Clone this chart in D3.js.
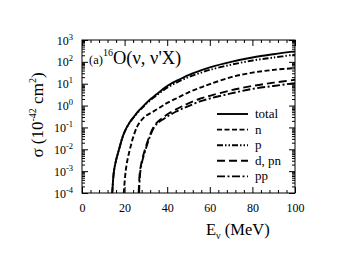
<!DOCTYPE html>
<html><head><meta charset="utf-8">
<script src="https://cdn.jsdelivr.net/npm/d3@7"></script>
<style>body{margin:0;background:#fff}svg{display:block}text{font-family:"Liberation Serif","Times New Roman",serif;fill:#000}</style>
</head><body><svg id="c" width="348" height="272" font-family="Liberation Serif, serif"></svg>
<script>
const xTicks = [0, 20, 40, 60, 80, 100];
const yExponents = [-4, -3, -2, -1, 0, 1, 2, 3];
const seriesNames = ["total", "n", "p", "d, pn", "pp"];
const totalE = [14.2, 15, 16, 17.4, 19, 20, 21, 22, 23, 24, 25.5, 27, 28.5, 30, 32.5, 35, 37.5, 40, 45, 50, 55, 60, 70, 80, 90, 100];
const totalS = [1e-4, 1e-3, 3.2e-3, 1e-2, 0.035, 0.063, 0.1, 0.148, 0.21, 0.28, 0.43, 0.63, 0.89, 1.26, 2.1, 3.3, 5.2, 7.9, 14.5, 25, 38, 56, 100, 158, 224, 302];
const pE = [14.2, 15, 16, 17.4, 19, 20, 21, 22, 23, 24, 25.5, 27, 28.5, 30, 32.5, 35, 37.5, 40, 45, 50, 55, 60, 70, 80, 90, 100];
const pS = [1e-4, 1e-3, 3.2e-3, 1e-2, 0.035, 0.062, 0.098, 0.144, 0.2, 0.27, 0.41, 0.59, 0.83, 1.15, 1.9, 2.9, 4.5, 6.6, 12, 20, 30, 43, 74, 115, 158, 214];
const nE = [19.6, 20.5, 21.4, 22.5, 24, 25.7, 26.5, 28, 30, 32.5, 35, 37.5, 40, 45, 50, 55, 60, 70, 80, 90, 100];
const nS = [1e-4, 1e-3, 3.5e-3, 1e-2, 0.035, 0.1, 0.14, 0.22, 0.34, 0.47, 0.66, 0.93, 1.32, 2.3, 4.0, 6.3, 9.5, 20, 32, 43, 52];
const dE = [26.6, 27.2, 28.2, 29.6, 31.3, 33.5, 35.5, 38, 40.5, 43.7, 47, 50, 55, 60, 70, 80, 90, 100];
const dS = [1e-4, 1e-3, 3.2e-3, 1e-2, 0.032, 0.1, 0.18, 0.28, 0.42, 0.63, 0.93, 1.26, 2.0, 2.8, 5.0, 7.9, 11.2, 15.1];
const ppE = [26.8, 27.4, 28.4, 29.9, 31.6, 33.8, 35.8, 38.5, 41, 44, 47, 50, 55, 60, 70, 80, 90, 100];
const ppS = [1e-4, 1e-3, 3.2e-3, 1e-2, 0.032, 0.1, 0.165, 0.25, 0.36, 0.52, 0.72, 0.95, 1.5, 2.1, 3.6, 5.8, 7.9, 10.7];

const FONT = "Liberation Serif, Times New Roman, serif";
const svg = d3.select("#c");
const L = 82, R = 295, T = 40, B = 193;
const x = d3.scaleLinear().domain([0, 100]).range([L, R]);
const y = d3.scaleLog().domain([1e-4, 1e3]).range([B, T]);

svg.append("clipPath").attr("id", "clip").append("rect")
  .attr("x", L).attr("y", T - 2).attr("width", R - L).attr("height", B - T + 4);

const series = [
  {E: totalE, S: totalS, dash: null},
  {E: nE, S: nS, dash: "5,2.5"},
  {E: pE, S: pS, dash: "6,2,1.5,2,1.5,2"},
  {E: dE, S: dS, dash: "8,4"},
  {E: ppE, S: ppS, dash: "8,2.5,2,2.5"}
];
const line = d3.line().x(d => x(d[0])).y(d => y(d[1])).curve(d3.curveCatmullRom.alpha(0.5));
const g = svg.append("g").attr("clip-path", "url(#clip)");
series.forEach(s => {
  g.append("path").attr("d", line(s.E.map((e, i) => [e, s.S[i]])))
    .attr("fill", "none").attr("stroke", "#000").attr("stroke-width", 1.9)
    .attr("stroke-dasharray", s.dash);
});

svg.append("rect").attr("x", L).attr("y", T).attr("width", R - L).attr("height", B - T)
  .attr("fill", "none").attr("stroke", "#000").attr("stroke-width", 1);

const xMinor = d3.range(0, 101, 4).filter(v => v % 20 !== 0);
const axB = d3.axisBottom(x).tickValues(xTicks).tickSize(-6).tickFormat(d3.format("d")).tickPadding(10);
const gb = svg.append("g").attr("transform", `translate(0,${B})`).call(axB);
svg.append("g").attr("transform", `translate(0,${T})`).call(d3.axisTop(x).tickValues(xTicks).tickSize(-6).tickFormat(""));
svg.append("g").attr("transform", `translate(0,${B})`).call(d3.axisBottom(x).tickValues(xMinor).tickSize(-3).tickFormat(""));
svg.append("g").attr("transform", `translate(0,${T})`).call(d3.axisTop(x).tickValues(xMinor).tickSize(-3).tickFormat(""));

const yMajor = yExponents.map(e => Math.pow(10, e));
const yMinor = [];
yExponents.slice(0, -1).forEach(e => { for (let k = 2; k <= 9; k++) yMinor.push(k * Math.pow(10, e)); });
svg.append("g").attr("transform", `translate(${L},0)`).call(d3.axisLeft(y).tickValues(yMajor).tickSize(-6).tickFormat(""));
svg.append("g").attr("transform", `translate(${R},0)`).call(d3.axisRight(y).tickValues(yMajor).tickSize(-6).tickFormat(""));
svg.append("g").attr("transform", `translate(${L},0)`).call(d3.axisLeft(y).tickValues(yMinor).tickSize(-3).tickFormat(""));
svg.append("g").attr("transform", `translate(${R},0)`).call(d3.axisRight(y).tickValues(yMinor).tickSize(-3).tickFormat(""));

svg.selectAll(".domain").remove();
svg.selectAll(".tick line").attr("stroke", "#000").attr("stroke-width", 1);
svg.selectAll("g").attr("font-family", FONT);
gb.selectAll("text").attr("font-size", 12).attr("font-family", FONT).attr("fill", "#000");

yExponents.forEach(e => {
  const t = svg.append("text").attr("x", 73).attr("y", y(Math.pow(10, e)) + 4.5)
    .attr("text-anchor", "end").attr("font-size", 12).attr("font-family", FONT);
  t.append("tspan").text("10");
  t.append("tspan").attr("dy", -5).attr("font-size", 8.5).text(String(e));
});

const tl = svg.append("text").attr("x", 89).attr("y", 64).attr("font-family", FONT);
tl.append("tspan").attr("font-size", 12.5).text("(a)");
tl.append("tspan").attr("font-size", 10).attr("dy", -8).text("16");
tl.append("tspan").attr("font-size", 18.5).attr("dy", 8).text("O(ν, ν'X)");

const xl = svg.append("text").attr("x", 206).attr("y", 235).attr("font-size", 16.5).attr("font-family", FONT);
xl.append("tspan").text("E");
xl.append("tspan").attr("font-size", 10).attr("dy", 4).text("ν");
xl.append("tspan").attr("dy", -4).text(" (MeV)");

const yl = svg.append("text").attr("transform", "translate(43,115) rotate(-90)")
  .attr("text-anchor", "middle").attr("font-size", 17).attr("font-family", FONT);
yl.append("tspan").text("σ (10");
yl.append("tspan").attr("font-size", 10).attr("dy", -7).text("-42");
yl.append("tspan").attr("dy", 7).text(" cm");
yl.append("tspan").attr("font-size", 10).attr("dy", -7).text("2");
yl.append("tspan").attr("dy", 7).text(")");

const legY0 = 114, legDy = 15.6;
series.forEach((s, i) => {
  const yy = legY0 + i * legDy;
  svg.append("line").attr("x1", 217).attr("x2", 248).attr("y1", yy).attr("y2", yy)
    .attr("stroke", "#000").attr("stroke-width", 1.9).attr("stroke-dasharray", s.dash);
  svg.append("text").attr("x", 255).attr("y", yy + 4).attr("font-size", 13).attr("font-family", FONT).text(seriesNames[i]);
});
</script></body></html>
